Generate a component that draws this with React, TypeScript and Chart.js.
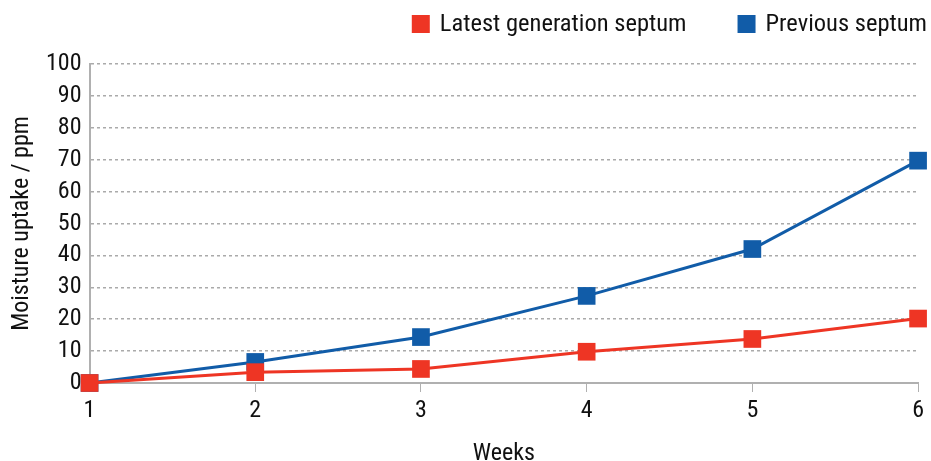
import React, { useEffect, useRef } from "react";
import { Chart, registerables } from "chart.js";

Chart.register(...registerables);

const weeks = ["1", "2", "3", "4", "5", "6"];
const latestSeptum = [0, 3.4, 4.4, 9.8, 13.8, 20.2];
const previousSeptum = [0, 6.6, 14.4, 27.3, 42.0, 69.7];

const FONT = "'Liberation Sans Narrow', 'Roboto Condensed', 'Arial Narrow', Roboto, sans-serif";
const FS = 24;

const customLegend = {
  id: "customLegend",
  afterDraw(chart: any) {
    const ctx = chart.ctx;
    const items = chart.data.datasets.map((d: any) => ({ text: d.label, color: d.backgroundColor }));
    ctx.save();
    ctx.font = `24.5px ${FONT}`;
    ctx.textBaseline = "middle";
    ctx.textAlign = "left";
    let x = chart.width - 4;
    const cy = 24;
    const placed: any[] = [];
    for (let i = items.length - 1; i >= 0; i--) {
      const w = ctx.measureText(items[i].text).width;
      const tx = x - w;
      const bx = tx - 10 - 18;
      placed.push({ ...items[i], tx, bx });
      x = bx - 51;
    }
    for (const p of placed) {
      ctx.fillStyle = p.color;
      ctx.fillRect(p.bx, cy - 9, 18, 18);
      ctx.fillStyle = "#111";
      ctx.fillText(p.text, p.tx, cy + 1);
    }
    ctx.restore();
  },
};

export default function App() {
  const ref = useRef<HTMLCanvasElement | null>(null);
  useEffect(() => {
    document.body.style.margin = "0";
    const ctx = ref.current!;
    const chart = new Chart(ctx, {
      type: "line",
      data: {
        labels: weeks,
        datasets: [
          {
            label: "Latest generation septum",
            data: latestSeptum,
            borderColor: "#ee3524",
            backgroundColor: "#ee3524",
            borderWidth: 3,
            pointStyle: "rect",
            pointRadius: 12.5,
            pointHoverRadius: 12.5,
            pointBorderWidth: 0,
            clip: false,
          },
          {
            label: "Previous septum",
            data: previousSeptum,
            borderColor: "#115ca8",
            backgroundColor: "#115ca8",
            borderWidth: 3,
            pointStyle: "rect",
            pointRadius: 12.5,
            pointHoverRadius: 12.5,
            pointBorderWidth: 0,
            clip: false,
          },
        ],
      },
      plugins: [customLegend],
      options: {
        animation: false,
        responsive: false,
        layout: { padding: { left: 10, right: 6, top: 64, bottom: -5 } },
        plugins: {
          tooltip: { enabled: false },
          legend: { display: false },
        },
        scales: {
          x: {
            type: "category",
            offset: false,
            border: { color: "#b0b0b0", width: 2 },
            grid: {
              drawOnChartArea: false,
              drawTicks: true,
              tickLength: 9,
              color: "#b0b0b0",
              lineWidth: 1,
            },
            ticks: { color: "#111", font: { family: FONT, size: FS, lineHeight: 1 }, padding: 7 },
            title: {
              display: true,
              text: "Weeks",
              color: "#111",
              font: { family: FONT, size: FS, lineHeight: 1 },
              padding: { top: 12, bottom: 0 },
            },
          },
          y: {
            min: 0,
            max: 100,
            border: { color: "#b0b0b0", width: 2, display: true },
            grid: {
              color: (c: any) => (c.tick && c.tick.value === 0 ? "rgba(0,0,0,0)" : "#aaaaaa"),
              lineWidth: 1.5,
              drawTicks: false,
            },
            ticks: {
              stepSize: 10,
              autoSkip: false,
              color: "#111",
              padding: 8,
              font: { family: FONT, size: FS, lineHeight: 1 },
            },
            title: {
              display: true,
              text: "Moisture uptake / ppm",
              color: "#111",
              font: { family: FONT, size: FS, lineHeight: 1 },
              padding: { top: 0, bottom: 4 },
            },
          },
        },
      } as any,
    });
    (chart.options.scales as any).y.border.dash = [3, 3];
    chart.update();
    return () => chart.destroy();
  }, []);
  return (
    <div style={{ width: 931, height: 461 }}>
      <canvas ref={ref} width={931} height={461} />
    </div>
  );
}
